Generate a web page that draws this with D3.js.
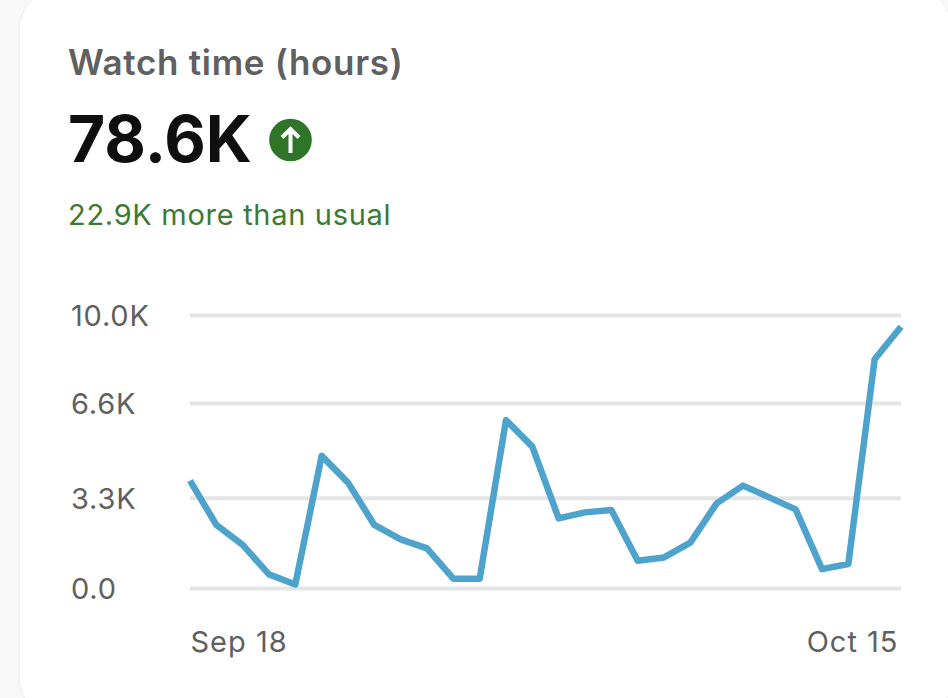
<!DOCTYPE html>
<html>
<head>
<meta charset="utf-8">
<script src="https://cdn.jsdelivr.net/npm/d3@7"></script>
<style>
html, body { margin: 0; padding: 0; background: #f8f8f8; overflow: hidden; }
svg { display: block; font-family: Inter, "Noto Sans", sans-serif; }
</style>
</head>
<body>
<script>
var dayLabels = ["2023-09-18", "2023-09-19", "2023-09-20", "2023-09-21", "2023-09-22", "2023-09-23", "2023-09-24",
    "2023-09-25", "2023-09-26", "2023-09-27", "2023-09-28", "2023-09-29", "2023-09-30", "2023-10-01",
    "2023-10-02", "2023-10-03", "2023-10-04", "2023-10-05", "2023-10-06", "2023-10-07", "2023-10-08",
    "2023-10-09", "2023-10-10", "2023-10-11", "2023-10-12", "2023-10-13", "2023-10-14", "2023-10-15"];
// hours per day
var watchHours = [3930, 2310, 1580, 500, 130, 4840, 3860,
    2310, 1780, 1450, 340, 340, 6150, 5180,
    2550, 2770, 2860, 1000, 1120, 1660, 3100,
    3750, 3320, 2880, 690, 880, 8380, 9570];
var yTicks = [0, 3310, 6780, 10000];
var yTickLabels = ["0.0", "3.3K", "6.6K", "10.0K"];
var xTickDates = ["2023-09-18", "2023-10-15"];
var xTickLabels = ["Sep 18", "Oct 15"];

var parseDay = d3.timeParse("%Y-%m-%d");
var days = dayLabels.map(parseDay);

var svg = d3.select("body").append("svg")
    .attr("width", 948)
    .attr("height", 698);

// card, its corners are just cut by the photo
svg.append("rect")
    .attr("x", 19.5)
    .attr("y", -14)
    .attr("width", 932.5)
    .attr("height", 736)
    .attr("rx", 44)
    .attr("fill", "#fff")
    .attr("stroke", "#eeeeee")
    .attr("stroke-width", 1);

svg.append("text").attr("x", 68).attr("y", 75)
    .attr("font-size", 35).attr("font-weight", 600).attr("fill", "#606060")
    .attr("letter-spacing", 0.7)
    .text("Watch time (hours)");

svg.append("text").attr("x", 68).attr("y", 162)
    .attr("font-size", 64).attr("font-weight", 700).attr("fill", "#0f0f0f")
    .text("78.6K");

svg.append("circle").attr("cx", 290.5).attr("cy", 140).attr("r", 21.3).attr("fill", "#2f7529");
svg.append("path")
    .attr("d", "M290.5 153V129M282 137.5L290.5 129L299 137.5")
    .attr("fill", "none").attr("stroke", "#fff").attr("stroke-width", 4);

svg.append("text").attr("x", 68).attr("y", 225)
    .attr("font-size", 29).attr("font-weight", 400).attr("fill", "#3b7a33")
    .attr("letter-spacing", 0.7)
    .text("22.9K more than usual");

var x = d3.scaleTime()
    .domain(d3.extent(days))
    .range([190, 901]);

var y = d3.scaleLinear()
    .domain([0, 10000])
    .range([588, 315]);

// y axis with the gridlines as its ticks
var yAxis = svg.append("g")
    .attr("transform", "translate(190,0)")
    .call(d3.axisLeft(y)
        .tickValues(yTicks)
        .tickSize(-711)
        .tickFormat(function(d, i) { return yTickLabels[i]; }));
yAxis.select(".domain").remove();
yAxis.selectAll("line").attr("stroke", "#e5e5e5").attr("stroke-width", 4);
yAxis.selectAll("text")
    .attr("x", -119)
    .attr("dy", "0.37em")
    .attr("text-anchor", "start")
    .attr("font-family", "Inter, 'Noto Sans', sans-serif")
    .attr("font-size", 29)
    .attr("letter-spacing", 0.8)
    .attr("fill", "#606060");

var xAxis = svg.append("g")
    .attr("transform", "translate(0,588)")
    .call(d3.axisBottom(x)
        .tickValues(xTickDates.map(parseDay))
        .tickSize(0)
        .tickFormat(function(d, i) { return xTickLabels[i]; }));
xAxis.select(".domain").remove();
xAxis.selectAll("text")
    .attr("y", 64)
    .attr("dy", 0)
    .attr("font-family", "Inter, 'Noto Sans', sans-serif")
    .attr("font-size", 29)
    .attr("letter-spacing", 1)
    .attr("fill", "#606060")
    .attr("text-anchor", function(d, i) { return i == 0 ? "start" : "end"; })
    .attr("dx", function(d, i) { return i == 0 ? 0 : -3; });

var line = d3.line()
    .x(function(d, i) { return x(days[i]); })
    .y(function(d) { return y(d); });

svg.append("path")
    .datum(watchHours)
    .attr("d", line)
    .attr("fill", "none")
    .attr("stroke", "#4da3cb")
    .attr("stroke-width", 6.5)
    .attr("stroke-linejoin", "round");
</script>
</body>
</html>
